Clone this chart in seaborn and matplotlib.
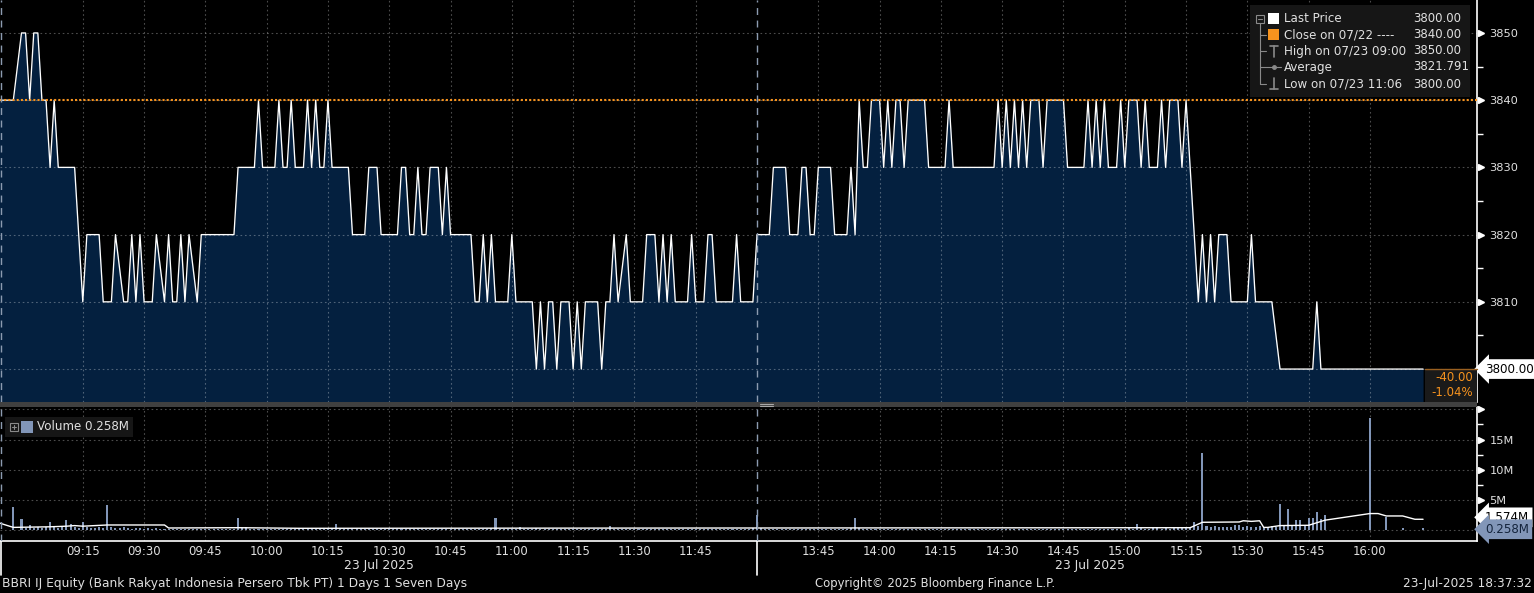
import numpy as np
import pandas as pd
import matplotlib
matplotlib.use("Agg")
import matplotlib.pyplot as plt
import matplotlib.transforms as mtrans
from matplotlib.patches import Rectangle
from matplotlib.lines import Line2D
import seaborn as sns

# ---------------- data ----------------
price_times = [
    "08:54", "08:58", "09:00", "09:01", "09:02", "09:03", "09:04", "09:05", "09:06", "09:07",
    "09:08", "09:09", "09:13", "09:15", "09:16", "09:19", "09:20", "09:22", "09:23", "09:25",
    "09:26", "09:27", "09:28", "09:29", "09:30", "09:32", "09:33", "09:35", "09:36", "09:37",
    "09:38", "09:39", "09:40", "09:41", "09:43", "09:44", "09:52", "09:53", "09:57", "09:58",
    "09:59", "10:02", "10:03", "10:04", "10:05", "10:06", "10:07", "10:09", "10:10", "10:11",
    "10:12", "10:13", "10:14", "10:15", "10:16", "10:20", "10:21", "10:24", "10:25", "10:27",
    "10:28", "10:32", "10:33", "10:34", "10:35", "10:36", "10:37", "10:38", "10:39", "10:40",
    "10:42", "10:43", "10:44", "10:45", "10:50", "10:51", "10:52", "10:53", "10:54", "10:55",
    "10:56", "10:59", "11:00", "11:01", "11:05", "11:06", "11:07", "11:08", "11:09", "11:10",
    "11:11", "11:12", "11:14", "11:15", "11:16", "11:17", "11:18", "11:21", "11:22", "11:23",
    "11:24", "11:25", "11:26", "11:28", "11:29", "11:32", "11:33", "11:35", "11:36", "11:37",
    "11:38", "11:39", "11:40", "11:43", "11:44", "11:45", "11:47", "11:48", "11:49", "11:50",
    "11:54", "11:55", "11:56", "11:59",
    "13:30", "13:33", "13:34", "13:37", "13:38", "13:40", "13:41", "13:42", "13:43", "13:44",
    "13:45", "13:48", "13:49", "13:52", "13:53", "13:54", "13:55", "13:56", "13:57", "13:58",
    "14:00", "14:01", "14:02", "14:03", "14:04", "14:05", "14:06", "14:07", "14:11", "14:12",
    "14:16", "14:17", "14:18", "14:28", "14:29", "14:30", "14:31", "14:32", "14:33", "14:34",
    "14:35", "14:36", "14:37", "14:39", "14:40", "14:41", "14:45", "14:46", "14:50", "14:51",
    "14:52", "14:53", "14:54", "14:55", "14:56", "14:58", "14:59", "15:00", "15:01", "15:03",
    "15:04", "15:05", "15:06", "15:08", "15:09", "15:10", "15:11", "15:13", "15:14", "15:15",
    "15:16", "15:18", "15:19", "15:20", "15:21", "15:22", "15:23", "15:25", "15:26", "15:30",
    "15:31", "15:32", "15:36", "15:38", "15:46", "15:47", "15:48", "16:13",
]
price_values = [
    3840, 3840, 3850, 3850, 3840, 3850, 3850, 3840, 3840, 3830,
    3840, 3830, 3830, 3810, 3820, 3820, 3810, 3810, 3820, 3810,
    3810, 3820, 3810, 3820, 3810, 3810, 3820, 3810, 3820, 3810,
    3810, 3820, 3810, 3820, 3810, 3820, 3820, 3830, 3830, 3840,
    3830, 3830, 3840, 3830, 3830, 3840, 3830, 3830, 3840, 3830,
    3840, 3830, 3830, 3840, 3830, 3830, 3820, 3820, 3830, 3830,
    3820, 3820, 3830, 3830, 3820, 3820, 3830, 3820, 3820, 3830,
    3830, 3820, 3830, 3820, 3820, 3810, 3810, 3820, 3810, 3820,
    3810, 3810, 3820, 3810, 3810, 3800, 3810, 3800, 3810, 3810,
    3800, 3810, 3810, 3800, 3810, 3800, 3810, 3810, 3800, 3810,
    3810, 3820, 3810, 3820, 3810, 3810, 3820, 3820, 3810, 3820,
    3810, 3820, 3810, 3810, 3820, 3810, 3810, 3820, 3820, 3810,
    3810, 3820, 3810, 3810,
    3820, 3820, 3830, 3830, 3820, 3820, 3830, 3830, 3820, 3820,
    3830, 3830, 3820, 3820, 3830, 3820, 3840, 3830, 3830, 3840,
    3840, 3830, 3840, 3830, 3840, 3840, 3830, 3840, 3840, 3830,
    3830, 3840, 3830, 3830, 3840, 3830, 3840, 3830, 3840, 3830,
    3840, 3830, 3840, 3840, 3830, 3840, 3840, 3830, 3830, 3840,
    3830, 3840, 3830, 3840, 3830, 3830, 3840, 3830, 3840, 3840,
    3830, 3840, 3830, 3830, 3840, 3830, 3840, 3840, 3830, 3840,
    3830, 3810, 3820, 3810, 3820, 3810, 3820, 3820, 3810, 3810,
    3820, 3810, 3810, 3800, 3800, 3810, 3800, 3800,
]

vol_morning_start = "08:58"
vol_morning = [  # millions, one value per minute from 08:58
    3.8, 0.0, 1.8, 0.3, 0.8, 0.3, 0.4, 0.3, 0.4, 1.3, 0.4, 0.3,
    0.5, 1.6, 0.9, 0.4, 0.3, 1.35, 0.4, 0.3, 0.3, 0.4,
    0.3, 4.1, 0.4, 0.3, 0.3, 0.5, 0.3, 0.2, 0.3, 0.3,
    0.2, 0.3, 0.2, 0.3, 0.2, 0.2, 0.1, 0.2, 0.1, 0.2,
    0.1, 0.2, 0.1, 0.1, 0.2, 0.1, 0.1, 0.2, 0.1, 0.1,
    0.1, 0.2, 0.2, 2.0, 0.3, 0.5, 0.2, 0.1, 0.2, 0.1,
    0.1, 0.1, 0.2, 0.1, 0.1, 0.1, 0.2, 0.1, 0.1, 0.1,
    0.2, 0.1, 0.1, 0.2, 0.1, 0.1, 0.3, 1.0, 0.2, 0.1,
    0.1, 0.1, 0.2, 0.1, 0.1, 0.1, 0.2, 0.1, 0.1, 0.1,
    0.1, 0.2, 0.1, 0.1, 0.1, 0.1, 0.2, 0.1, 0.1, 0.1,
    0.2, 0.1, 0.1, 0.1, 0.2, 0.1, 0.1, 0.1, 0.2, 0.1,
    0.1, 0.1, 0.2, 0.1, 0.1, 0.3, 2.0, 0.2, 0.1, 0.1,
    0.1, 0.2, 0.4, 0.1, 0.1, 0.2, 0.3, 0.1, 0.2, 0.1,
    0.1, 0.2, 0.1, 0.1, 0.2, 0.1, 0.1, 0.1, 0.2, 0.1,
    0.1, 0.2, 0.1, 0.1, 0.6, 0.1, 0.1, 0.2, 0.1, 0.1,
    0.1, 0.1, 0.2, 0.1, 0.1, 0.1, 0.2, 0.1, 0.1, 0.1,
    0.2, 0.1, 0.1, 0.1, 0.2, 0.1, 0.1, 0.1, 0.2, 0.1,
    0.1, 0.2, 0.1, 0.1, 0.1, 0.2, 0.1, 0.1, 0.2, 0.3,
]
vol_afternoon_start = "13:30"
vol_afternoon = [  # millions, one value per minute from 13:30
    2.5, 0.3, 0.2, 0.2, 0.1, 0.2, 0.1, 0.1, 0.2, 0.1,
    0.1, 0.1, 0.2, 0.1, 0.1, 0.1, 0.2, 0.1, 0.1, 0.1,
    0.2, 0.1, 0.1, 0.3, 2.0, 0.3, 0.2, 0.1, 0.2, 0.1,
    0.1, 0.2, 0.1, 0.1, 0.1, 0.2, 0.1, 0.1, 0.1, 0.2,
    0.1, 0.1, 0.1, 0.2, 0.1, 0.1, 0.1, 0.2, 0.1, 0.1,
    0.1, 0.2, 0.1, 0.1, 0.1, 0.2, 0.1, 0.1, 0.1, 0.2,
    0.1, 0.1, 0.1, 0.2, 0.1, 0.1, 0.1, 0.2, 0.1, 0.1,
    0.1, 0.2, 0.1, 0.1, 0.1, 0.2, 0.1, 0.1, 0.1, 0.2,
    0.1, 0.1, 0.2, 0.1, 0.1, 0.2, 0.1, 0.1, 0.2, 0.1,
    0.2, 0.3, 0.2, 1.0, 0.3, 0.2, 0.2, 0.3, 0.4, 0.2,
    0.3, 0.2, 0.3, 0.4, 0.3, 0.3, 0.4, 1.3, 0.6, 12.7,
    0.6, 0.5, 0.6, 0.4, 0.5, 0.4, 0.5, 0.8, 0.8, 0.4,
    0.6, 0.5, 0.4, 0.6, 0.5, 0.4, 0.6, 0.5, 4.3, 0.6,
    3.45, 0.6, 1.6, 1.6, 0.7, 1.9, 1.9, 3.0, 1.75, 2.4,
    0.0, 0.0, 0.0, 0.0, 0.0, 0.0, 0.0, 0.0, 0.0, 0.0,
    18.6, 0.0, 0.0, 0.0, 2.2, 0.0, 0.0, 0.0, 0.3, 0.0,
    0.0, 0.0, 0.0, 0.3,
]

avg_vol_times = ["08:54", "08:58", "09:07", "09:11", "09:13", "09:15", "09:21", "09:35", "09:36",
                 "09:53", "10:08", "13:30", "15:16", "15:19", "15:28", "15:29", "15:31", "15:33",
                 "15:34", "15:35", "15:38", "15:45", "15:49", "16:00", "16:02", "16:04", "16:08",
                 "16:11", "16:13"]
avg_vol_values = [1.25, 0.4, 0.5, 0.6, 0.7, 0.6, 0.8, 0.8, 0.3,
                  0.35, 0.25, 0.3, 0.35, 1.25, 1.3, 1.5, 1.4, 1.5,
                  0.4, 0.4, 0.7, 0.75, 1.6, 2.7, 2.7, 2.3, 2.3,
                  1.75, 1.75]

tick_times = ["09:15", "09:30", "09:45", "10:00", "10:15", "10:30", "10:45", "11:00", "11:15",
              "11:30", "11:45", "13:45", "14:00", "14:15", "14:30", "14:45", "15:00", "15:15",
              "15:30", "15:45", "16:00"]
price_ticks = [3800, 3810, 3820, 3830, 3840, 3850]
vol_ticks = [0, 5, 10, 15, 20]
vol_tick_labels = ["", "5M", "10M", "15M", ""]

prev_close = 3840.00
last_price = 3800.00
high_price = 3850.00
low_price = 3800.00
avg_price = 3821.791
net_change = "-40.00"
pct_change = "-1.04%"
last_volume = "0.258M"
avg_volume_label = "1.574M"


def to_u(t):
    """Trading-minute axis: 09:00 -> 0, 12:00 -> 180, 13:30 -> 180 (lunch break removed)."""
    h, m = map(int, t.split(":"))
    mins = h * 60 + m
    if mins <= 12 * 60:
        return mins - 9 * 60
    return 180 + mins - (13 * 60 + 30)


price_df = pd.DataFrame({"u": [to_u(t) for t in price_times], "price": price_values})
u0m = to_u(vol_morning_start)
u0a = to_u(vol_afternoon_start)
vol_df = pd.DataFrame({
    "u": [u0m + i for i in range(len(vol_morning))] + [u0a + i for i in range(len(vol_afternoon))],
    "vol": vol_morning + vol_afternoon,
})
vol_df = vol_df[vol_df.vol > 0]
avg_df = pd.DataFrame({"u": [to_u(t) for t in avg_vol_times], "v": avg_vol_values})
tick_u = [to_u(t) for t in tick_times]

# ---------------- style ----------------
sns.set_theme(style="dark", rc={
    "axes.facecolor": "black", "figure.facecolor": "black",
    "axes.edgecolor": "white", "text.color": "#e0e0e0",
    "xtick.color": "#e0e0e0", "ytick.color": "#e0e0e0",
})
plt.rcParams["font.family"] = ["DejaVu Sans"]

W, H = 1534, 593
fig = plt.figure(figsize=(W / 100, H / 100), dpi=100, facecolor="black")


def fx(px):
    return px / W


def fy(py):
    return 1 - py / H


ax_p = fig.add_axes([0, fy(402), 1477 / W, 402 / H])
ax_v = fig.add_axes([0, fy(541), 1477 / W, 134 / H])

XL = (-5.26, 356.2)
NAVY = "#04203f"
TXT = "#e0e0e0"
FS_TICK = 8.4
FS_NUM = 8.2
FS_LAB = 8.6
FS_FLAG = 8.6
VOLC = "#8296b8"
ORANGE = "#f7931e"

# ---------- price panel ----------
ax_p.set_xlim(*XL)
ax_p.set_ylim(3795.1, 3854.9)
ax_p.fill_between(price_df.u, price_df.price, 3780, color=NAVY, lw=0, zorder=1)
sns.lineplot(data=price_df, x="u", y="price", ax=ax_p, color="white", lw=0.95,
             estimator=None, sort=False, zorder=3)
ax_p.axhline(prev_close, color=ORANGE, ls=(0, (1, 1)), lw=1.5, zorder=4)
for xv in (-4.9, 180):
    ax_p.axvline(xv, color="#8c9bb0", ls=(0, (5, 4)), lw=1.0, zorder=4)
ax_p.set_xticks(tick_u)
ax_p.tick_params(axis="x", length=0, labelbottom=False)
ax_p.yaxis.tick_right()
ax_p.set_yticks(price_ticks)
ax_p.set_yticklabels(["" if v == last_price else f"{v:.0f}" for v in price_ticks])
ax_p.set_yticks([v + 5 for v in price_ticks[:-1]], minor=True)
ax_p.tick_params(axis="y", which="major", length=0, pad=9.0, labelsize=FS_NUM, labelcolor=TXT)
ax_p.tick_params(axis="y", which="minor", length=4, width=1, color="white")
ax_p.set_axisbelow(False)
ax_p.grid(True, which="major", color="white", alpha=0.3, ls=(0, (1.5, 2.5)), lw=0.8)
ax_p.set_xlabel("")
ax_p.set_ylabel("")
for s in ("top", "left", "bottom"):
    ax_p.spines[s].set_visible(False)
ax_p.spines["right"].set_color("white")
ax_p.spines["right"].set_linewidth(1.2)
tp = mtrans.offset_copy(mtrans.blended_transform_factory(ax_p.transAxes, ax_p.transData),
                        fig=fig, x=4, y=0, units="dots")
ax_p.plot([1.0] * len(price_ticks), price_ticks, ls="none", marker=">", ms=5, color="white",
          transform=tp, clip_on=False)

# ---------- volume panel ----------
ax_v.set_xlim(*XL)
ax_v.set_ylim(-1.86, 20.4)
ax_v.bar(vol_df.u, vol_df.vol, width=0.5, color=VOLC, lw=0, zorder=2)
sns.lineplot(data=avg_df, x="u", y="v", ax=ax_v, color="white", lw=1.0,
             estimator=None, sort=False, zorder=3)
for xv in (-4.9, 180):
    ax_v.axvline(xv, color="#8c9bb0", ls=(0, (5, 4)), lw=1.0, zorder=4)
ax_v.set_xticks(tick_u)
ax_v.set_xticklabels(tick_times)
ax_v.tick_params(axis="x", direction="in", length=6, width=1, color="white",
                 labelcolor=TXT, labelsize=FS_TICK, pad=3)
ax_v.yaxis.tick_right()
ax_v.set_yticks(vol_ticks)
ax_v.set_yticklabels(vol_tick_labels)
ax_v.set_yticks([2.5, 7.5, 12.5, 17.5], minor=True)
ax_v.tick_params(axis="y", which="major", length=0, pad=9.0, labelsize=FS_NUM, labelcolor=TXT)
ax_v.tick_params(axis="y", which="minor", length=4, width=1, color="white")
ax_v.grid(True, which="major", color="white", alpha=0.3, ls=(0, (1.5, 2.5)), lw=0.8)
ax_v.set_xlabel("")
ax_v.set_ylabel("")
for s in ("top", "left"):
    ax_v.spines[s].set_visible(False)
for s in ("right", "bottom"):
    ax_v.spines[s].set_color("white")
    ax_v.spines[s].set_linewidth(1.2)
tv = mtrans.offset_copy(mtrans.blended_transform_factory(ax_v.transAxes, ax_v.transData),
                        fig=fig, x=4, y=0, units="dots")
ax_v.plot([1.0] * 4, vol_ticks[1:], ls="none", marker=">", ms=5, color="white",
          transform=tv, clip_on=False)

# long session ticks below the axis + date labels
bx = mtrans.blended_transform_factory(ax_v.transData, ax_v.transAxes)
for xv in (-5.0, 180):
    ax_v.plot([xv, xv], [0, -0.254], color="white", lw=1.2, transform=bx, clip_on=False)
ax_v.text((XL[0] + 180) / 2, -0.186, "23 Jul 2025", transform=bx, ha="center", va="center",
          fontsize=8.9, color=TXT)
ax_v.text((180 + price_df.u.max()) / 2, -0.186, "23 Jul 2025", transform=bx, ha="center",
          va="center", fontsize=8.9, color=TXT)

# ---------- decorations in figure pixels ----------
def rect(x0, y0, x1, y1, **kw):
    fig.patches.append(Rectangle((fx(x0), fy(y1)), (x1 - x0) / W, (y1 - y0) / H,
                                 transform=fig.transFigure, **kw))


def seg(x0, y0, x1, y1, **kw):
    fig.lines.append(Line2D([fx(x0), fx(x1)], [fy(y0), fy(y1)], transform=fig.transFigure, **kw))


# separator between panels
rect(0, 402, 1477, 407, fc="#404040", ec="none", zorder=5)
seg(760, 403.6, 773, 403.6, color="#a8a8a8", lw=0.8, zorder=6)
seg(760, 405.6, 773, 405.6, color="#a8a8a8", lw=0.8, zorder=6)

# price legend box
rect(1250, 5, 1470, 97, fc="#161616", ec="none", zorder=5)
rows = [19, 35, 51, 67, 84]
labels = ["Last Price", "Close on 07/22 ----", "High on 07/23 09:00", "Average", "Low on 07/23 11:06"]
values = [f"{last_price:.2f}", f"{prev_close:.2f}", f"{high_price:.2f}", f"{avg_price:.3f}",
          f"{low_price:.2f}"]
GR = "#8a8a8a"
seg(1260, 22, 1260, 84, color=GR, lw=0.8, zorder=6)
for r in rows[1:]:
    seg(1260, r, 1266, r, color=GR, lw=0.8, zorder=6)
rect(1256, 14.5, 1264, 22.5, fc="#161616", ec=GR, lw=0.8, zorder=7)
seg(1258, 18.5, 1262, 18.5, color=GR, lw=0.8, zorder=8)
rect(1268, 13, 1279, 24, fc="white", ec="none", zorder=6)
rect(1268, 29, 1279, 40, fc=ORANGE, ec="none", zorder=6)
seg(1273.5, 46, 1273.5, 57, color=GR, lw=1.2, zorder=6)
seg(1269.5, 46, 1277.5, 46, color=GR, lw=1.2, zorder=6)
seg(1266, 67, 1281, 67, color=GR, lw=0.8, zorder=6)
fig.lines.append(Line2D([fx(1273.5)], [fy(67)], marker="o", ms=2.5, color=GR,
                        transform=fig.transFigure, zorder=7))
seg(1273.5, 78, 1273.5, 89, color=GR, lw=1.2, zorder=6)
seg(1269.5, 89, 1277.5, 89, color=GR, lw=1.2, zorder=6)
for r, lab, val in zip(rows, labels, values):
    fig.text(fx(1284), fy(r), lab, ha="left", va="center", fontsize=FS_LAB, color=TXT, zorder=8)
    fig.text(fx(1413), fy(r), val, ha="left", va="center", fontsize=FS_NUM + 0.3, color=TXT, zorder=8)

# net change box
rect(1425, 369, 1477, 402, fc="#1a1a1a", ec="none", zorder=5)
seg(1425, 369, 1477, 369, color="#9a6020", lw=1.0, zorder=6)
fig.text(fx(1473), fy(377.5), net_change, ha="right", va="center", fontsize=FS_NUM + 0.3,
         color=ORANGE, zorder=7)
fig.text(fx(1473), fy(393), pct_change, ha="right", va="center", fontsize=FS_NUM + 0.3,
         color=ORANGE, zorder=7)

# last price flag
ax_p.text(1.0, last_price, f"{last_price:.2f}", transform=mtrans.offset_copy(
    mtrans.blended_transform_factory(ax_p.transAxes, ax_p.transData), fig=fig, x=8, y=0, units="dots"),
    ha="left", va="center", fontsize=FS_FLAG, color="black", zorder=10, clip_on=False,
    bbox=dict(boxstyle="larrow,pad=0.28", fc="white", ec="none"))

# volume flags
ax_v.text(1.0, 1.574, avg_volume_label, transform=mtrans.offset_copy(
    mtrans.blended_transform_factory(ax_v.transAxes, ax_v.transData), fig=fig, x=8, y=3, units="dots"),
    ha="left", va="center", fontsize=FS_FLAG, color="black", zorder=9, clip_on=False,
    bbox=dict(boxstyle="larrow,pad=0.28", fc="white", ec="none"))
ax_v.text(1.0, 0.258, last_volume, transform=mtrans.offset_copy(
    mtrans.blended_transform_factory(ax_v.transAxes, ax_v.transData), fig=fig, x=8, y=-1, units="dots"),
    ha="left", va="center", fontsize=FS_FLAG, color="#14243c", zorder=10, clip_on=False,
    bbox=dict(boxstyle="larrow,pad=0.28", fc=VOLC, ec="none"))

# volume legend box
rect(5, 417, 133, 437, fc="#161616", ec="none", zorder=5)
rect(10, 423, 18, 431, fc="#161616", ec=GR, lw=0.8, zorder=6)
seg(12, 427, 16, 427, color=GR, lw=0.8, zorder=7)
seg(14, 425, 14, 429, color=GR, lw=0.8, zorder=7)
rect(21, 421, 33, 433, fc=VOLC, ec="none", zorder=6)
fig.text(fx(37), fy(427), f"Volume {last_volume}", ha="left", va="center", fontsize=8.6,
         color=TXT, zorder=7)

# footer
fig.text(fx(2), fy(584), "BBRI IJ Equity (Bank Rakyat Indonesia Persero Tbk PT) 1 Days 1 Seven Days",
         ha="left", va="center", fontsize=8.8, color=TXT)
fig.text(fx(935), fy(584), "Copyright\u00a9 2025 Bloomberg Finance L.P.", ha="center", va="center",
         fontsize=8.4, color=TXT)
fig.text(fx(1532), fy(584), "23-Jul-2025 18:37:32", ha="right", va="center", fontsize=8.7, color=TXT)

fig.savefig("out.png", dpi=100, facecolor="black")
